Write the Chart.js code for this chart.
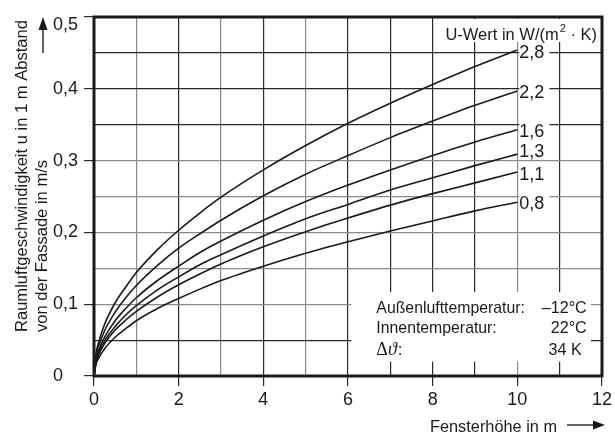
<!DOCTYPE html>
<html>
<head>
<meta charset="utf-8">
<script src="https://cdn.jsdelivr.net/npm/chart.js@4.4.0/dist/chart.umd.min.js"></script>
<style>
  html, body { margin: 0; padding: 0; background: #fff; }
  #c { display: block; }
</style>
</head>
<body>
<canvas id="c" width="615" height="436"></canvas>
<script>
// window height in m (x values)
const heights = [0, 0.05, 0.1, 0.25, 0.5, 0.75, 1, 1.5, 2, 2.5, 3, 4, 5, 6, 7, 8, 9, 10];

// air speed u in m/s for each U-value curve
const u28 = [0, 0.032, 0.045, 0.072, 0.102, 0.124, 0.144, 0.176, 0.203, 0.227, 0.249, 0.287, 0.321, 0.352, 0.38, 0.406, 0.431, 0.454];
const u22 = [0, 0.028, 0.04, 0.063, 0.089, 0.109, 0.126, 0.154, 0.178, 0.198, 0.217, 0.251, 0.281, 0.307, 0.332, 0.355, 0.377, 0.397];
const u16 = [0, 0.024, 0.034, 0.054, 0.077, 0.094, 0.109, 0.133, 0.153, 0.172, 0.188, 0.217, 0.243, 0.266, 0.287, 0.307, 0.326, 0.343];
const u13 = [0, 0.022, 0.031, 0.049, 0.069, 0.085, 0.098, 0.12, 0.138, 0.155, 0.169, 0.195, 0.219, 0.239, 0.259, 0.276, 0.293, 0.309];
const u11 = [0, 0.02, 0.028, 0.045, 0.064, 0.078, 0.09, 0.11, 0.127, 0.142, 0.156, 0.18, 0.201, 0.22, 0.238, 0.254, 0.269, 0.284];
const u08 = [0, 0.017, 0.024, 0.038, 0.054, 0.066, 0.077, 0.094, 0.108, 0.121, 0.133, 0.153, 0.171, 0.187, 0.202, 0.216, 0.23, 0.242];

const curveLabels = ["2,8", "2,2", "1,6", "1,3", "1,1", "0,8"];
const curves = [u28, u22, u16, u13, u11, u08];

const annotLabels = ["Außenlufttemperatur:", "Innentemperatur:", "Δϑ:"];
const annotValues = ["–12°C", "22°C", "34 K"];

// grid lines that are printed lighter in the original
const grayX = [1, 3, 5, 10];
const grayY = [10, 15, 20, 25, 30];

const FONT = "'Liberation Sans', Arial, sans-serif";
const INK = "#1a1a1a";

const labelNudge = [2, 1, 1, -3, 2, 1];

const datasets = curves.map((vals, i) => ({
  label: curveLabels[i],
  data: heights.map((h, j) => ({ x: h, y: vals[j] })),
  borderColor: INK,
  borderWidth: 1.6,
  pointRadius: 0,
  cubicInterpolationMode: "monotone",
  fill: false,
}));

// draw text squeezed horizontally (the original uses a narrow face)
function narrowText(ctx, str, x, y, sx) {
  ctx.save();
  ctx.translate(x, y);
  ctx.scale(sx, 1);
  ctx.fillText(str, 0, 0);
  ctx.restore();
}

function drawArrow(ctx, x1, y1, x2, y2, head, half) {
  const ang = Math.atan2(y2 - y1, x2 - x1);
  ctx.beginPath();
  ctx.moveTo(x1, y1);
  ctx.lineTo(x2 - Math.cos(ang) * head * 0.8, y2 - Math.sin(ang) * head * 0.8);
  ctx.stroke();
  ctx.beginPath();
  ctx.moveTo(x2, y2);
  ctx.lineTo(x2 - Math.cos(ang) * head - Math.sin(ang) * half, y2 - Math.sin(ang) * head + Math.cos(ang) * half);
  ctx.lineTo(x2 - Math.cos(ang) * head + Math.sin(ang) * half, y2 - Math.sin(ang) * head - Math.cos(ang) * half);
  ctx.closePath();
  ctx.fill();
}

const decorPlugin = {
  id: "decor",
  beforeDatasetsDraw(chart) {
    const { ctx, chartArea: a, scales } = chart;
    const xS = scales.x, yS = scales.y;
    ctx.save();
    ctx.fillStyle = "#fff";
    // box behind the legend title
    ctx.fillRect(a.right - 163, a.top + 2, 161, 23);
    // boxes behind curve labels
    const lx = xS.getPixelForValue(10) + 2;
    curves.forEach((vals, i) => {
      const y = yS.getPixelForValue(vals[vals.length - 1]) + labelNudge[i];
      ctx.fillRect(lx, y - 8, 30, 16);
    });
    // box behind the temperature note
    const bx1 = xS.getPixelForValue(6.08), bx2 = xS.getPixelForValue(11.74);
    const by1 = yS.getPixelForValue(0.117), by2 = yS.getPixelForValue(0.02);
    ctx.fillRect(bx1, by1, bx2 - bx1, by2 - by1);
    ctx.restore();
  },
  afterDatasetsDraw(chart) {
    const { ctx, chartArea: a, scales } = chart;
    const xS = scales.x, yS = scales.y;
    ctx.save();
    ctx.fillStyle = INK;
    ctx.strokeStyle = INK;

    // frame
    ctx.lineWidth = 3;
    ctx.strokeRect(a.left, a.top, a.right - a.left, a.bottom - a.top);

    // curve labels
    ctx.font = "18px " + FONT;
    ctx.textBaseline = "middle";
    ctx.textAlign = "left";
    const lx = xS.getPixelForValue(10) + 2;
    curves.forEach((vals, i) => {
      const y = yS.getPixelForValue(vals[vals.length - 1]) + labelNudge[i];
      ctx.fillText(curveLabels[i], lx, y + 1);
    });

    // legend title  U-Wert in W/(m² · K)
    ctx.textBaseline = "alphabetic";
    const p1 = "U-Wert in W/(m", p2 = "2", p3 = " · K)";
    ctx.font = "17px " + FONT;
    const w1 = ctx.measureText(p1).width * 0.97, w3 = ctx.measureText(p3).width * 0.97;
    ctx.font = "11px " + FONT;
    const w2 = ctx.measureText(p2).width;
    let tx = a.right - 6 - (w1 + w2 + w3);
    const ty = a.top + 23;
    ctx.font = "17px " + FONT;
    narrowText(ctx, p1, tx, ty, 0.97);
    ctx.font = "11px " + FONT;
    ctx.fillText(p2, tx + w1 + 1, ty - 8);
    ctx.font = "17px " + FONT;
    narrowText(ctx, p3, tx + w1 + w2 + 1, ty, 0.97);

    // temperature note
    const nx = xS.getPixelForValue(6.67);
    const vx = xS.getPixelForValue(11.64);
    const ny = [yS.getPixelForValue(0.088), yS.getPixelForValue(0.0595), yS.getPixelForValue(0.029)];
    ctx.font = "17px " + FONT;
    ctx.textAlign = "left";
    narrowText(ctx, annotLabels[0], nx, ny[0], 0.93);
    narrowText(ctx, annotLabels[1], nx, ny[1], 0.93);
    // Δϑ: with serif delta and italic theta
    ctx.font = "18px 'Liberation Serif', 'DejaVu Serif', serif";
    const dW = ctx.measureText("Δ").width;
    ctx.fillText("Δ", nx, ny[2]);
    ctx.font = "italic 18px 'Liberation Serif', 'DejaVu Serif', serif";
    const tW = ctx.measureText("ϑ").width;
    ctx.fillText("ϑ", nx + dW, ny[2]);
    ctx.font = "17px " + FONT;
    ctx.fillText(":", nx + dW + tW + 1, ny[2]);
    ctx.textAlign = "right";
    narrowText(ctx, annotValues[0], vx, ny[0], 0.95);
    narrowText(ctx, annotValues[1], vx, ny[1], 0.95);
    narrowText(ctx, annotValues[2], vx - 5, ny[2], 0.95);
    ctx.restore();
  },
  afterDraw(chart) {
    const { ctx, scales } = chart;
    const yS = scales.y;
    ctx.save();
    ctx.fillStyle = INK;
    ctx.strokeStyle = "#333";

    // top tick label sits below its line
    ctx.font = "18px " + FONT;
    ctx.textAlign = "left";
    ctx.textBaseline = "middle";
    ctx.fillText("0,5", 53, yS.getPixelForValue(0.5) + 8);

    // y axis title, two rotated lines
    ctx.save();
    ctx.translate(0, 332);
    ctx.rotate(-Math.PI / 2);
    ctx.font = "17px " + FONT;
    ctx.textAlign = "left";
    ctx.textBaseline = "alphabetic";
    const line1 = "Raumluftgeschwindigkeit u in 1 m Abstand";
    const sx1 = Math.min(1, 312 / ctx.measureText(line1).width);
    narrowText(ctx, line1, 0, 27, sx1);
    narrowText(ctx, "von der Fassade in m/s", 0, 47, sx1);
    ctx.restore();

    // y arrow
    ctx.lineWidth = 1.5;
    drawArrow(ctx, 43, 53, 43, 17, 13, 4.5);

    // x axis title and arrow
    ctx.font = "17px " + FONT;
    ctx.textAlign = "left";
    ctx.textBaseline = "alphabetic";
    narrowText(ctx, "Fensterhöhe in m", 430, 432, 0.96);
    drawArrow(ctx, 567, 425, 605, 425, 12, 4.5);
    ctx.restore();
  },
};

new Chart(document.getElementById("c"), {
  type: "line",
  data: { datasets },
  options: {
    responsive: false,
    animation: false,
    devicePixelRatio: 1,
    layout: { padding: { left: 53, right: 12, top: 17, bottom: 0 } },
    plugins: { legend: { display: false }, tooltip: { enabled: false } },
    scales: {
      x: {
        type: "linear",
        min: 0,
        max: 12,
        afterFit: (s) => { s.height = 60; },
        border: { display: false },
        grid: {
          color: (c) => (grayX.includes(c.tick.value) ? "#8a8a8a" : "#2a2a2a"),
          lineWidth: 1.2,
          tickLength: 10,
          tickColor: (c) => (c.tick.value % 2 === 0 ? "#2a2a2a" : "rgba(0,0,0,0)"),
        },
        ticks: {
          stepSize: 1,
          autoSkip: false,
          maxRotation: 0,
          padding: 3,
          color: INK,
          font: { family: FONT, size: 18 },
          callback: (v) => (v % 2 === 0 ? String(v) : ""),
        },
      },
      y: {
        min: 0,
        max: 0.5,
        afterFit: (s) => { s.width = 41; },
        border: { display: false },
        grid: {
          color: (c) => (grayY.includes(Math.round(c.tick.value * 100)) ? "#8a8a8a" : "#2a2a2a"),
          lineWidth: 1.2,
          tickLength: 10,
          tickColor: (c) => (Math.round(c.tick.value * 100) % 10 === 0 ? "#2a2a2a" : "rgba(0,0,0,0)"),
        },
        ticks: {
          stepSize: 0.05,
          autoSkip: false,
          crossAlign: "far",
          color: INK,
          font: { family: FONT, size: 18 },
          callback: (v) => {
            const k = Math.round(v * 100);
            if (k % 10 !== 0 || k === 50) return "";
            return k === 0 ? "0" : (k / 100).toFixed(1).replace(".", ",");
          },
        },
      },
    },
  },
  plugins: [decorPlugin],
});
</script>
</body>
</html>
